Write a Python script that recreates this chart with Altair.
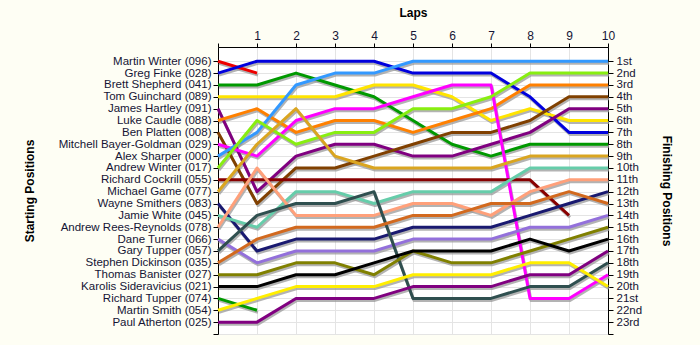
import altair as alt
import pandas as pd
import json

laps = list(range(11))

drivers = [
    "Martin Winter (096)", "Greg Finke (028)", "Brett Shepherd (041)", "Tom Guinchard (089)",
    "James Hartley (091)", "Luke Caudle (088)", "Ben Platten (008)", "Mitchell Bayer-Goldman (029)",
    "Alex Sharper (000)", "Andrew Winter (017)", "Richard Cockrill (055)", "Michael Game (077)",
    "Wayne Smithers (083)", "Jamie White (045)", "Andrew Rees-Reynolds (078)", "Dane Turner (066)",
    "Gary Tupper (057)", "Stephen Dickinson (035)", "Thomas Banister (027)", "Karolis Sideravicius (021)",
    "Richard Tupper (074)", "Martin Smith (054)", "Paul Atherton (025)",
]

colors = [
    "#EE0000", "#0000DD", "#009900", "#FFE400",
    "#800080", "#FF8000", "#804000", "#FF00FF",
    "#3399FF", "#88EE11", "#880000", "#DAA520",
    "#191970", "#66CDAA", "#FFA07A", "#9370DB",
    "#2F4F4F", "#D2691E", "#808000", "#000000",
    "#009900", "#FFEE00", "#800080",
]

N = None
p_martin_winter = [1, 2, N, N, N, N, N, N, N, N, N]
p_greg_finke = [2, 1, 1, 1, 1, 2, 2, 2, 4, 7, 7]
p_brett_shepherd = [3, 3, 2, 3, 4, 6, 8, 9, 8, 8, 8]
p_tom_guinchard = [4, 4, 4, 4, 3, 3, 4, 6, 5, 6, 6]
p_james_hartley = [5, 12, 9, 8, 8, 9, 9, 8, 7, 5, 5]
p_luke_caudle = [6, 5, 7, 6, 6, 7, 6, 5, 3, 3, 3]
p_ben_platten = [7, 13, 10, 10, 9, 8, 7, 7, 6, 4, 4]
p_mitchell = [8, 9, 6, 5, 5, 4, 3, 3, 21, 21, 19]
p_alex_sharper = [9, 7, 3, 2, 2, 1, 1, 1, 1, 1, 1]
p_andrew_winter = [10, 6, 8, 7, 7, 5, 5, 4, 2, 2, 2]
p_richard_cockrill = [11, 11, 11, 11, 11, 11, 11, 11, 11, 14, N]
p_michael_game = [12, 8, 5, 9, 10, 10, 10, 10, 9, 9, 9]
p_wayne_smithers = [13, 17, 16, 16, 16, 15, 15, 15, 14, 13, 12]
p_jamie_white = [14, 15, 12, 12, 13, 12, 12, 12, 10, 10, 10]
p_andrew_rees = [15, 10, 14, 14, 14, 13, 13, 14, 12, 11, 11]
p_dane_turner = [16, 18, 17, 17, 17, 16, 16, 16, 15, 15, 14]
p_gary_tupper = [17, 14, 13, 13, 12, 21, 21, 21, 20, 20, 18]
p_stephen_dickinson = [18, 16, 15, 15, 15, 14, 14, 13, 13, 12, 13]
p_thomas_banister = [19, 19, 18, 18, 19, 17, 18, 18, 17, 16, 15]
p_karolis = [20, 20, 19, 19, 18, 17, 17, 17, 16, 17, 16]
p_richard_tupper = [21, 22, N, N, N, N, N, N, N, N, N]
p_martin_smith = [22, 21, 20, 20, 20, 19, 19, 19, 18, 18, 20]
p_paul_atherton = [23, 23, 21, 21, 21, 20, 20, 20, 19, 19, 17]

positions = [
    p_martin_winter, p_greg_finke, p_brett_shepherd, p_tom_guinchard, p_james_hartley,
    p_luke_caudle, p_ben_platten, p_mitchell, p_alex_sharper, p_andrew_winter,
    p_richard_cockrill, p_michael_game, p_wayne_smithers, p_jamie_white, p_andrew_rees,
    p_dane_turner, p_gary_tupper, p_stephen_dickinson, p_thomas_banister, p_karolis,
    p_richard_tupper, p_martin_smith, p_paul_atherton,
]

finish_labels = ["1st", "2nd", "3rd", "4th", "5th", "6th", "7th", "8th", "9th", "10th",
                 "11th", "12th", "13th", "14th", "15th", "16th", "17th", "18th", "19th",
                 "20th", "21st", "22nd", "23rd"]

rows = []
for i, (d, ps) in enumerate(zip(drivers, positions)):
    for lap, p in zip(laps, ps):
        if p is not None:
            rows.append({"driver": d, "idx": i, "lap": lap, "pos": p})
df = pd.DataFrame(rows)

left_arr = json.dumps([""] + drivers + [""])
right_arr = json.dumps([""] + finish_labels + [""])

LABEL_FONT = "Liberation Sans"
TXT = "#151535"

xs = alt.Scale(domain=[0, 10], nice=False)
ys = alt.Scale(domain=[-0.2, 24], nice=False, zero=False, reverse=True)

x_axis = alt.Axis(
    orient="top", values=laps, tickCount=11, title="Laps", titleFont=LABEL_FONT, titleFontSize=12,
    titleFontWeight="bold", titleColor="#000000", titlePadding=10,
    labelExpr="datum.value == 0 ? '' : datum.label", labelFont=LABEL_FONT, labelFontSize=12,
    labelColor=TXT, labelPadding=1, tickSize=4, domainColor="#000000", tickColor="#000000",
    grid=True, gridColor="#E4E4E4", labelFlush=False, labelOverlap=False, labelBound=False)

base = alt.Chart(df)

shadow = base.mark_line(strokeWidth=3, color="#9A9A9A", opacity=0.75, xOffset=1, yOffset=2,
                        strokeJoin="round").encode(
    x=alt.X("lap:Q", scale=xs, axis=x_axis),
    y=alt.Y("pos:Q", scale=ys, axis=alt.Axis(
        orient="left", values=list(range(1, 25)), title="Starting Positions",
        titleFont=LABEL_FONT, titleFontSize=12, titleFontWeight="bold", titleColor="#000000",
        titlePadding=22, labelExpr=f"{left_arr}[datum.value]", labelFont=LABEL_FONT,
        labelFontSize=11.5, labelColor=TXT, labelPadding=2, tickSize=5, domainColor="#000000",
        tickColor="#000000", grid=True, gridColor="#E4E4E4", labelFlush=False, labelOverlap=False,
        labelBound=False)),
    detail="driver:N",
    order="lap:Q",
)

lines = base.mark_line(strokeWidth=3, strokeJoin="round").encode(
    x=alt.X("lap:Q", scale=xs, axis=x_axis),
    y=alt.Y("pos:Q", scale=ys, axis=alt.Axis(
        orient="right", values=list(range(1, 25)), title="Finishing Positions",
        titleFont=LABEL_FONT, titleFontSize=12, titleFontWeight="bold", titleColor="#000000",
        titlePadding=18, titleAngle=90, labelExpr=f"{right_arr}[datum.value]", labelFont=LABEL_FONT,
        labelFontSize=11.5, labelColor=TXT, labelPadding=3, tickSize=5, domainColor="#000000",
        tickColor="#000000", grid=False, labelFlush=False, labelOverlap=False, labelBound=False)),
    color=alt.Color("driver:N", scale=alt.Scale(domain=drivers, range=colors), legend=None),
    order="lap:Q",
)

chart = alt.layer(shadow, lines).resolve_axis(y="independent").properties(
    width=390, height=287,
    autosize=alt.AutoSizeParams(type="none"),
    padding={"left": 218, "top": 47, "right": 92, "bottom": 11},
    background="#FEFEF4",
).configure_view(fill="#FFFFFF", stroke=None)

chart.save("out.html", embed_options={"renderer": "svg", "actions": False})
